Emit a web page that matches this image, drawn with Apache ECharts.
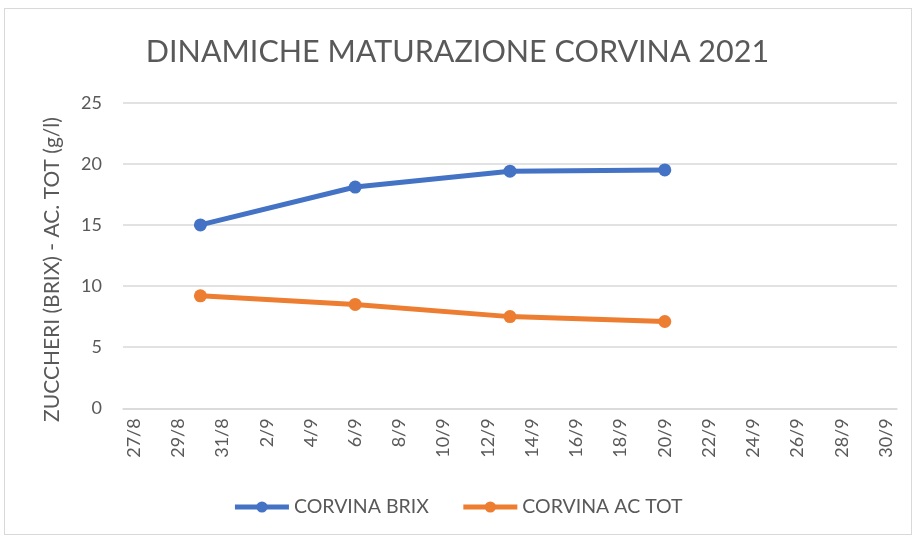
<!DOCTYPE html>
<html>
<head>
<meta charset="utf-8">
<script src="https://cdn.jsdelivr.net/npm/echarts@6/dist/echarts.min.js"></script>
<style>
  html, body { margin: 0; padding: 0; background: #fff; }
  #main { width: 915px; height: 538px; }
  #frame { position: absolute; left: 4px; top: 8px; width: 906px; height: 525px; border: 1px solid #d9d9d9; pointer-events: none; }
</style>
</head>
<body>
<div id="main"></div>
<div id="frame"></div>
<script>
const days = [
  '27/8', '28/8', '29/8', '30/8', '31/8', '1/9', '2/9', '3/9', '4/9', '5/9',
  '6/9', '7/9', '8/9', '9/9', '10/9', '11/9', '12/9', '13/9', '14/9', '15/9',
  '16/9', '17/9', '18/9', '19/9', '20/9', '21/9', '22/9', '23/9', '24/9', '25/9',
  '26/9', '27/9', '28/9', '29/9', '30/9'
];

const sampleDays = ['30/8', '6/9', '13/9', '20/9'];
const brix = [15.0, 18.1, 19.4, 19.5];
const acTot = [9.2, 8.5, 7.5, 7.1];

const labelFont = 'Lato';
const textColor = '#595959';

function pairs(values) {
  return sampleDays.map((d, i) => [d, values[i]]);
}

const chart = echarts.init(document.getElementById('main'));

const option = {
  animation: false,
  color: ['#4472c4', '#ed7d31'],
  title: {
    text: 'DINAMICHE MATURAZIONE CORVINA 2021',
    left: 'center',
    top: 32,
    textStyle: {
      fontFamily: labelFont,
      fontWeight: 'normal',
      fontSize: 30.5,
      color: textColor
    }
  },
  grid: {
    left: 123,
    right: 18,
    top: 102.7,
    bottom: 129.7
  },
  legend: {
    top: 492,
    left: 'center',
    itemWidth: 54,
    itemHeight: 14,
    itemGap: 32,
    lineStyle: { width: 5 },
    textStyle: {
      fontFamily: labelFont,
      fontSize: 19.5,
      color: textColor
    },
    data: ['CORVINA BRIX', 'CORVINA AC TOT']
  },
  xAxis: {
    type: 'category',
    data: days,
    boundaryGap: true,
    axisLine: { lineStyle: { color: '#d9d9d9', width: 1.5 } },
    axisTick: {
      interval: 1,
      length: 6,
      lineStyle: { color: '#d9d9d9', width: 1.5 }
    },
    axisLabel: {
      interval: 1,
      rotate: 90,
      margin: 10,
      fontFamily: labelFont,
      fontSize: 18,
      color: textColor
    }
  },
  yAxis: {
    type: 'value',
    min: 0,
    max: 25,
    interval: 5,
    name: 'ZUCCHERI (BRIX) - AC. TOT (g/l)',
    nameLocation: 'middle',
    nameGap: 60,
    nameTextStyle: {
      fontFamily: labelFont,
      fontSize: 21,
      color: textColor,
      padding: [0, 28, 0, 0]
    },
    axisLine: { show: false },
    axisTick: { show: false },
    axisLabel: {
      margin: 21,
      fontFamily: labelFont,
      fontSize: 18,
      color: textColor
    },
    splitLine: { lineStyle: { color: '#d9d9d9', width: 1.5 } }
  },
  series: [
    {
      name: 'CORVINA BRIX',
      type: 'line',
      data: pairs(brix),
      symbol: 'circle',
      symbolSize: 13,
      lineStyle: { width: 5 }
    },
    {
      name: 'CORVINA AC TOT',
      type: 'line',
      data: pairs(acTot),
      symbol: 'circle',
      symbolSize: 13,
      lineStyle: { width: 5 }
    }
  ]
};

chart.setOption(option);
</script>
</body>
</html>
